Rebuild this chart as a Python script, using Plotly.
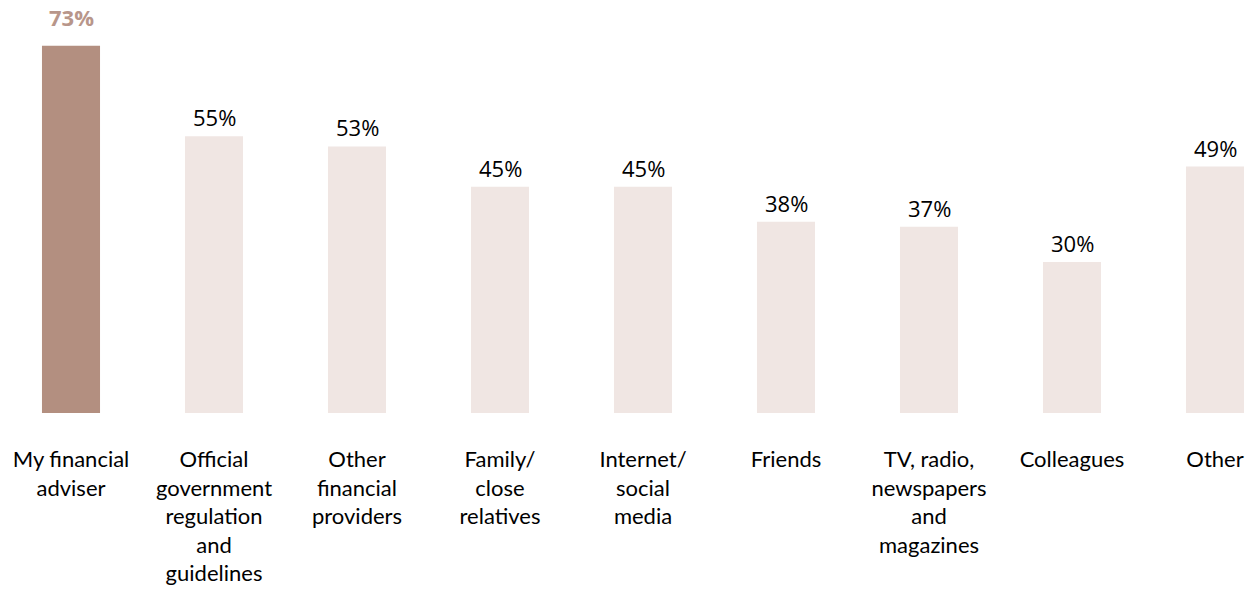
import plotly.graph_objects as go

# Sources of information, share of respondents (%)
categories = [
    "My financial<br>adviser",
    "Official<br>government<br>regulation<br>and<br>guidelines",
    "Other<br>financial<br>providers",
    "Family/<br>close<br>relatives",
    "Internet/<br>social<br>media",
    "Friends",
    "TV, radio,<br>newspapers<br>and<br>magazines",
    "Colleagues",
    "Other",
]
values = [73, 55, 53, 45, 45, 38, 37, 30, 49]
highlight_index = 0

DARK = "#B38F80"
LIGHT = "#F0E6E3"
DARK_TEXT = "#B8968A"

bar_colors = [DARK if i == highlight_index else LIGHT for i in range(len(values))]

fig = go.Figure()
fig.add_trace(go.Bar(
    x=categories,
    y=values,
    marker=dict(color=bar_colors, line=dict(width=0)),
    width=0.406,
    hoverinfo="skip",
))

# Value labels above each bar
for i, (cat, val) in enumerate(zip(categories, values)):
    if i == highlight_index:
        fig.add_annotation(
            x=cat, y=val, text=f"<b>{val}%</b>", showarrow=False,
            yanchor="bottom", yshift=12,
            font=dict(family="Open Sans", size=22, color=DARK_TEXT),
        )
    else:
        fig.add_annotation(
            x=cat, y=val, text=f"{val}%", showarrow=False,
            yanchor="bottom", yshift=2,
            font=dict(family="Open Sans", size=22, color="#000000"),
        )

fig.update_layout(
    width=1257,
    height=589,
    margin=dict(l=0, r=0, t=0, b=176),
    plot_bgcolor="white",
    paper_bgcolor="white",
    showlegend=False,
    bargap=0.6,
    xaxis=dict(
        type="category",
        range=[-0.4965, 8.2937],
        showgrid=False,
        showline=False,
        zeroline=False,
        ticks="",
        ticklabelstandoff=31,
        tickfont=dict(family="Lato", size=22, color="#000000"),
        fixedrange=True,
    ),
    yaxis=dict(
        range=[0, 82.1],
        showgrid=False,
        showline=False,
        zeroline=False,
        showticklabels=False,
        fixedrange=True,
    ),
)

fig.write_html("out.html")
